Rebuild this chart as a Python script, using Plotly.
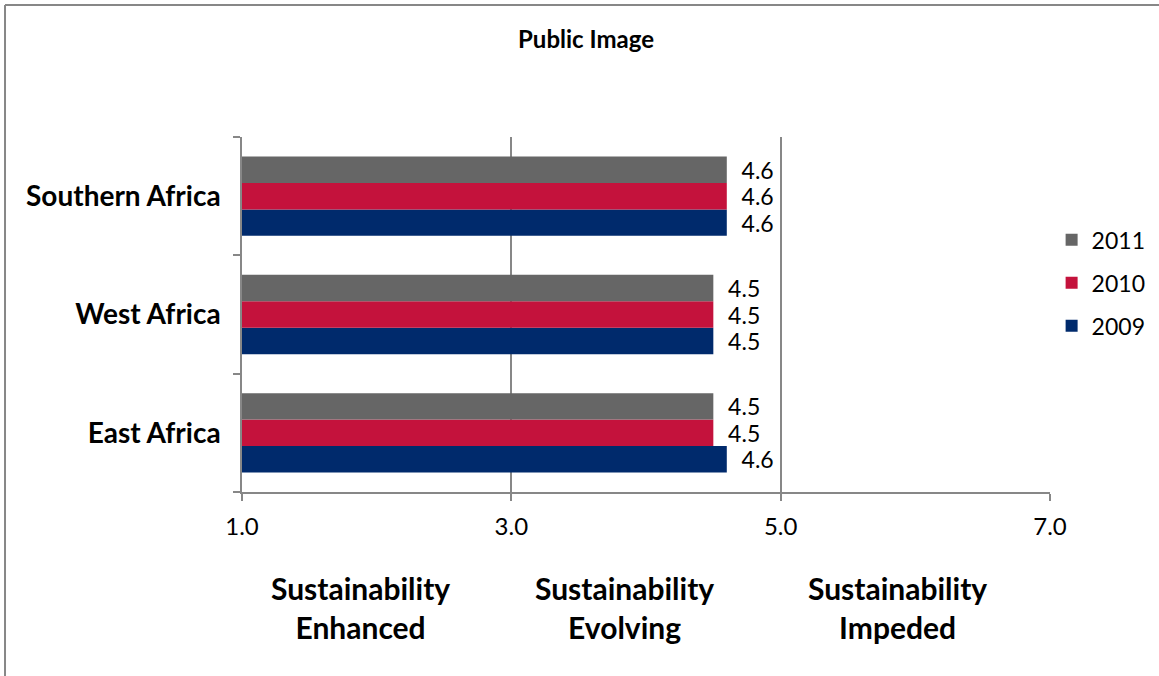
import plotly.graph_objects as go

categories = ["East Africa", "West Africa", "Southern Africa"]
years = ["2009", "2010", "2011"]
values_2009 = [4.6, 4.5, 4.6]
values_2010 = [4.5, 4.5, 4.6]
values_2011 = [4.5, 4.5, 4.6]
colors = {"2009": "#002A6C", "2010": "#C4123C", "2011": "#666666"}
legend_rank = {"2011": 1, "2010": 2, "2009": 3}
x_ticks = [1.0, 3.0, 5.0, 7.0]
zone_labels = ["Sustainability<br>Enhanced", "Sustainability<br>Evolving", "Sustainability<br>Impeded"]
zone_centers = [1.88, 3.84, 5.87]

series = {"2009": values_2009, "2010": values_2010, "2011": values_2011}

fig = go.Figure()
for yr in years:
    fig.add_trace(go.Bar(
        y=categories, x=series[yr], orientation="h", name=yr,
        marker=dict(color=colors[yr], line=dict(width=0)),
        texttemplate="\u00a0\u00a0%{x:.1f}", textposition="outside",
        constraintext="none", cliponaxis=False,
        textfont=dict(family="Lato", size=23, color="#000000"),
        legendgroup=yr, legendrank=legend_rank[yr],
    ))

GRAY = "#878787"
fig.update_layout(
    width=1159, height=676,
    margin=dict(l=242, r=109, t=137, b=184, autoexpand=False),
    paper_bgcolor="white", plot_bgcolor="white",
    barmode="group", bargap=0.33, bargroupgap=0,
    title=dict(text="<b>Public Image</b>", x=586/1159, xanchor="center", xref="container",
               y=1-40/676, yanchor="middle", yref="container",
               font=dict(family="Lato", size=24, color="#000000")),
    legend=dict(traceorder="grouped", x=1.002, xanchor="left", y=0.589, yanchor="middle",
                font=dict(family="Lato", size=23, color="#000000"), tracegroupgap=10,
                bgcolor="rgba(0,0,0,0)", itemwidth=30),
    font=dict(family="Lato"),
)
fig.update_xaxes(range=[1, 7], tickvals=x_ticks, tickformat=".1f",
                 showgrid=True, gridcolor=GRAY, gridwidth=1.5,
                 showline=True, linecolor=GRAY, linewidth=1.5,
                 ticks="outside", ticklen=7, tickcolor=GRAY, tickwidth=1.5,
                 tickfont=dict(family="Lato", size=24, color="#000000"),
                 ticklabelstandoff=5,
                 zeroline=False, mirror=False)
fig.update_yaxes(categoryorder="array", categoryarray=categories,
                 showline=True, linecolor=GRAY, linewidth=1.5,
                 ticks="outside", ticklen=7, tickcolor=GRAY, tickwidth=1.5, tickson="boundaries",
                 tickfont=dict(family="Lato", size=28, color="#000000", weight="bold"),
                 ticklabelstandoff=14, showgrid=False)
for lbl, cx in zip(zone_labels, zone_centers):
    fig.add_annotation(text="<b>" + lbl + "</b>", x=cx, xref="x", y=-0.324, yref="paper",
                       yanchor="middle", showarrow=False, align="center",
                       font=dict(family="Lato", size=30, color="#000000"))
# outer border (left and top)
fig.add_shape(type="line", xref="paper", yref="paper", x0=-0.2933, x1=-0.2933, y0=-1, y1=1.3718,
              line=dict(color=GRAY, width=2))
fig.add_shape(type="line", xref="paper", yref="paper", x0=-0.2933, x1=2, y0=1.3718, y1=1.3718,
              line=dict(color=GRAY, width=2))

fig.write_html("out.html")
